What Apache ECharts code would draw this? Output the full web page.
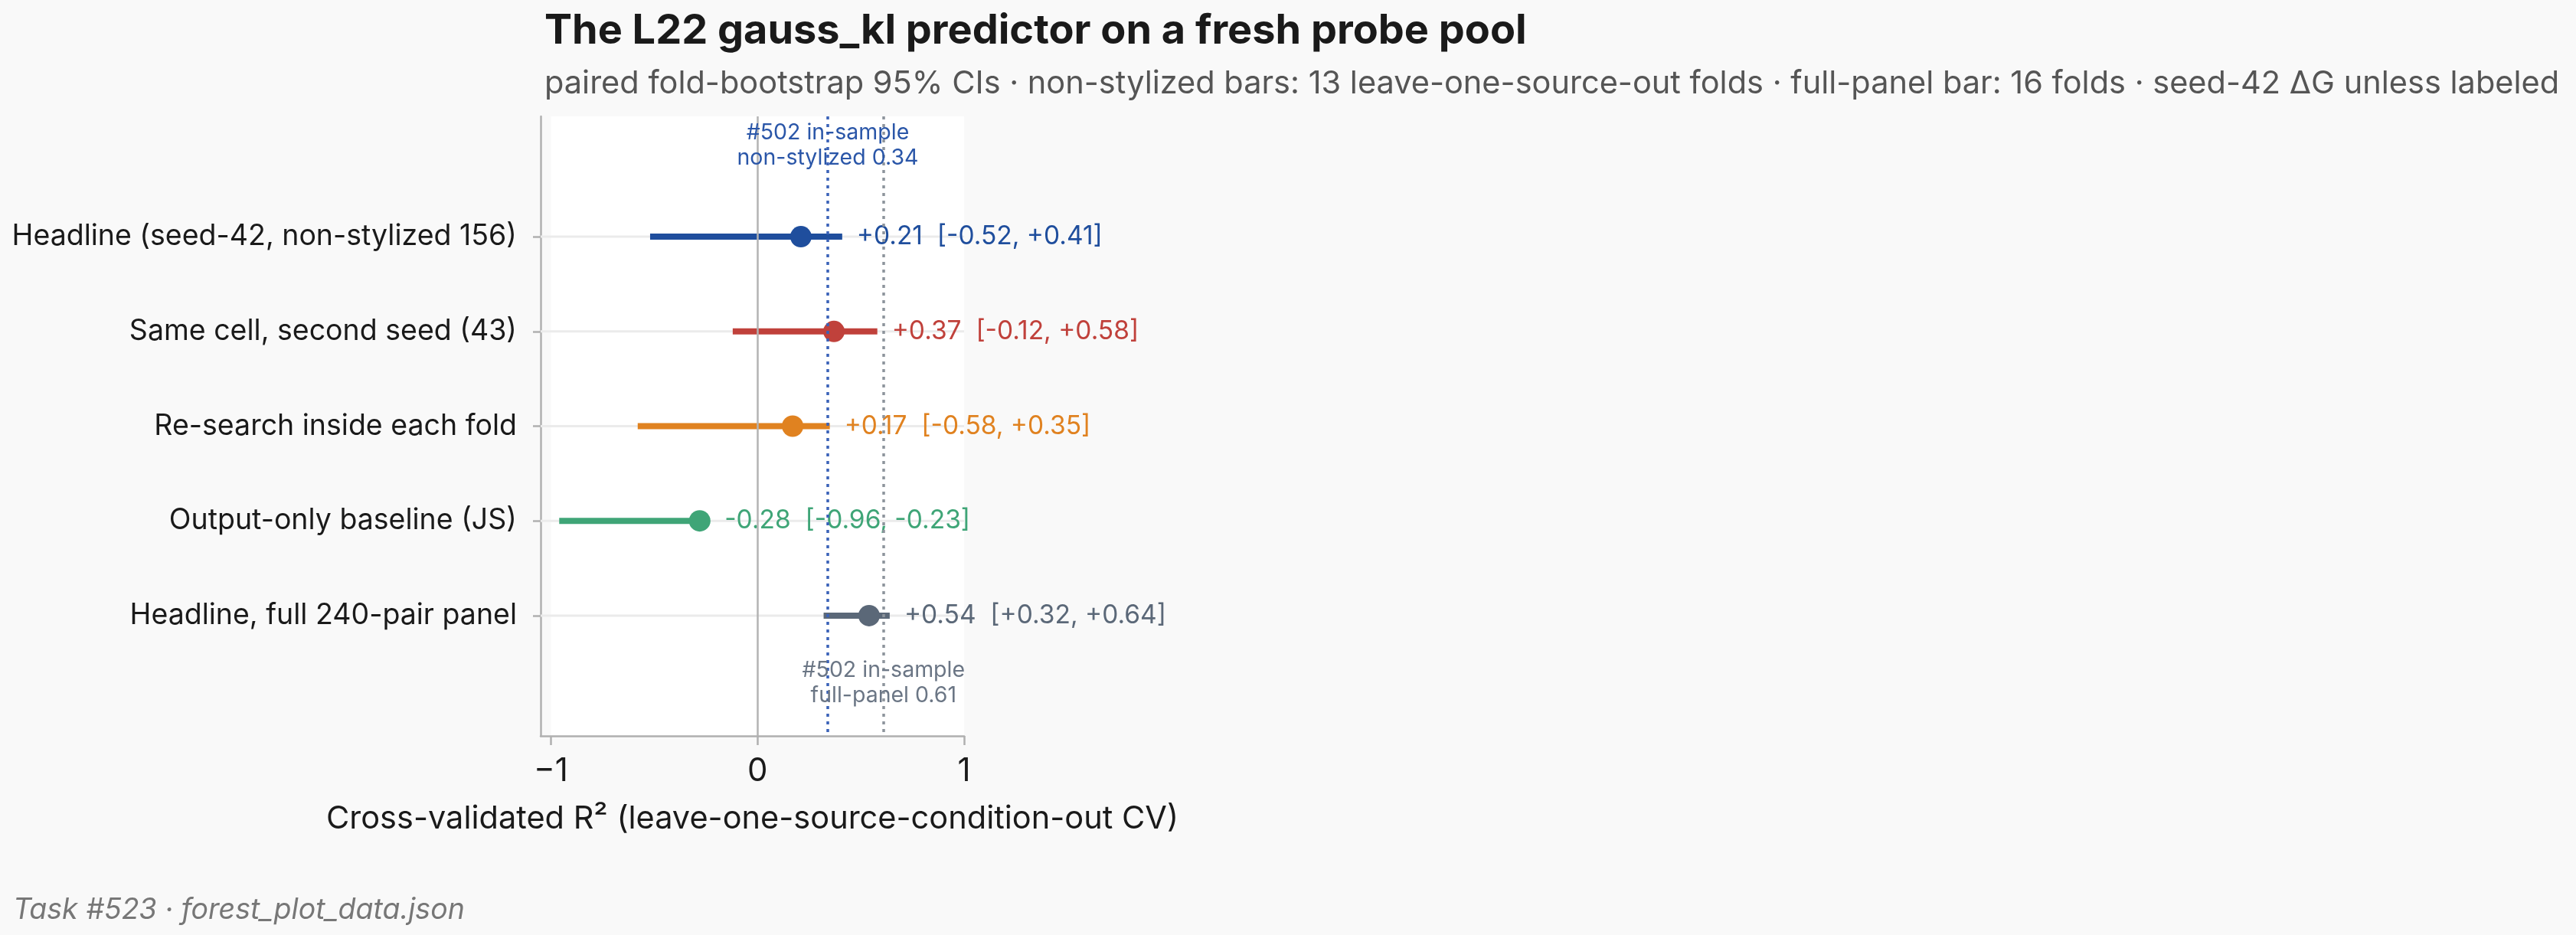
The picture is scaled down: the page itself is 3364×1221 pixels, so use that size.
<!DOCTYPE html>
<html>
<head>
<meta charset="utf-8">
<script src="https://cdn.jsdelivr.net/npm/echarts@6/dist/echarts.min.js"></script>
<style>
html, body { margin: 0; padding: 0; background: #f9f9f9; }
#chart { width: 3364px; height: 1221px; }
</style>
</head>
<body>
<div id="chart"></div>
<script>
var rowNames = [
    'Headline (seed-42, non-stylized 156)',
    'Same cell, second seed (43)',
    'Re-search inside each fold',
    'Output-only baseline (JS)',
    'Headline, full 240-pair panel'
];
var estimates = [0.21, 0.37, 0.17, -0.28, 0.54];
var lows = [-0.52, -0.12, -0.58, -0.96, 0.32];
var highs = [0.41, 0.58, 0.35, -0.23, 0.64];
var rowColors = ['#1f4e9d', '#c0413b', '#e08220', '#3fa577', '#5b6878'];
var xTicks = [-1, 0, 1];
var refNonStylized = 0.34;
var refFullPanel = 0.61;

var FONT = 'Inter, "Noto Sans", sans-serif';

function signed(v) {
    return (v >= 0 ? '+' : '-') + Math.abs(v).toFixed(2);
}

var ciData = estimates.map(function (e, i) {
    return [i, e, lows[i], highs[i]];
});

var myChart = echarts.init(document.getElementById('chart'));

var option = {
    backgroundColor: '#f9f9f9',
    animation: false,
    title: [
        {
            text: 'The L22 gauss_kl predictor on a fresh probe pool',
            left: 706, top: 9,
            textStyle: { fontFamily: FONT, fontSize: 54, fontWeight: 'bold', color: '#1a1a1a' }
        },
        {
            text: 'paired fold-bootstrap 95% CIs · non-stylized bars: 13 leave-one-source-out folds · full-panel bar: 16 folds · seed-42 ΔG unless labeled',
            left: 706, top: 84,
            textStyle: { fontFamily: FONT, fontSize: 41.5, fontWeight: 'normal', color: '#555555' }
        },
        {
            text: 'Task #523 · forest_plot_data.json',
            left: 12, top: 1165,
            textStyle: { fontFamily: FONT, fontSize: 37.5, fontWeight: 'normal', fontStyle: 'italic', color: '#777777' }
        }
    ],
    grid: { left: 706, right: 2105, top: 152, bottom: 260, containLabel: false },
    xAxis: {
        type: 'value',
        min: -1.05,
        max: 1,
        name: 'Cross-validated R² (leave-one-source-condition-out CV)',
        nameLocation: 'middle',
        nameGap: 88,
        nameTextStyle: { fontFamily: FONT, fontSize: 41.5, color: '#1a1a1a' },
        axisLine: { onZero: false, lineStyle: { color: '#b0b0b0', width: 2.5 } },
        axisTick: { show: true, customValues: xTicks, length: 12, lineStyle: { color: '#b0b0b0', width: 2.5 } },
        axisLabel: {
            customValues: xTicks,
            margin: 25,
            fontFamily: FONT, fontSize: 42, color: '#1a1a1a',
            formatter: function (v) { return v < 0 ? '\u2212' + Math.abs(v) : String(v); }
        },
        splitLine: { show: false }
    },
    yAxis: {
        type: 'value',
        inverse: true,
        min: -1.27,
        max: 5.27,
        axisLine: { show: true, onZero: false, lineStyle: { color: '#b0b0b0', width: 2.5 } },
        axisTick: { show: true, customValues: [0, 1, 2, 3, 4], length: 10, lineStyle: { color: '#b0b0b0', width: 2.5 } },
        axisLabel: {
            customValues: [0, 1, 2, 3, 4],
            margin: 31,
            fontFamily: FONT, fontSize: 37.5, color: '#1a1a1a',
            formatter: function (v) { return rowNames[Math.round(v)] || ''; }
        },
        splitLine: { show: false }
    },
    series: [
        {
            // row guide lines + white panel
            type: 'custom',
            z: 1,
            silent: true,
            data: ciData,
            encode: { x: [1, 2, 3], y: 0 },
            renderItem: function (params, api) {
                var p = api.coord([0, api.value(0)]);
                var cs = params.coordSys;
                return {
                    type: 'line',
                    shape: { x1: cs.x, y1: p[1], x2: cs.x + cs.width, y2: p[1] },
                    style: { stroke: '#ebebeb', lineWidth: 3 }
                };
            },
            markArea: {
                silent: true,
                z: 0,
                itemStyle: { color: '#ffffff' },
                data: [[{ xAxis: xTicks[0] }, { xAxis: xTicks[2] }]]
            }
        },
        {
            type: 'custom',
            z: 3,
            data: ciData,
            encode: { x: [1, 2, 3], y: 0 },
            renderItem: function (params, api) {
                var i = api.value(0);
                var pE = api.coord([api.value(1), i]);
                var pL = api.coord([api.value(2), i]);
                var pH = api.coord([api.value(3), i]);
                var c = rowColors[i];
                return {
                    type: 'group',
                    children: [
                        {
                            type: 'line',
                            shape: { x1: pL[0], y1: pL[1], x2: pH[0], y2: pH[1] },
                            style: { stroke: c, lineWidth: 8 }
                        },
                        {
                            type: 'circle',
                            shape: { cx: pE[0], cy: pE[1], r: 14 },
                            style: { fill: c }
                        },
                        {
                            type: 'text',
                            x: pH[0] + 19,
                            y: pH[1],
                            style: {
                                text: signed(api.value(1)) + '  [' + signed(api.value(2)) + ', ' + signed(api.value(3)) + ']',
                                fill: c,
                                fontFamily: FONT,
                                fontSize: 33.5,
                                align: 'left',
                                verticalAlign: 'middle'
                            }
                        }
                    ]
                };
            },
            markLine: {
                silent: true,
                symbol: 'none',
                z: 5,
                label: { show: false },
                data: [
                    { xAxis: 0, lineStyle: { color: '#b3b3b3', type: 'solid', width: 2.5 } },
                    { xAxis: refNonStylized, lineStyle: { color: '#3a62b8', type: [4, 6], width: 3.5 } },
                    { xAxis: refFullPanel, lineStyle: { color: '#8d949c', type: [4, 6], width: 3.5 } }
                ]
            },
            markPoint: {
                silent: true,
                symbol: 'circle',
                symbolSize: 0,
                data: [
                    {
                        coord: [refNonStylized, -0.96],
                        label: {
                            show: true, position: 'inside',
                            formatter: '#502 in-sample\nnon-stylized ' + refNonStylized.toFixed(2),
                            fontFamily: FONT, fontSize: 28.5, lineHeight: 33, color: '#2a56a8', align: 'center'
                        }
                    },
                    {
                        coord: [refFullPanel, 4.71],
                        label: {
                            show: true, position: 'inside',
                            formatter: '#502 in-sample\nfull-panel ' + refFullPanel.toFixed(2),
                            fontFamily: FONT, fontSize: 28.5, lineHeight: 33, color: '#6b7685', align: 'center'
                        }
                    }
                ]
            }
        }
    ]
};

myChart.setOption(option);
</script>
</body>
</html>
